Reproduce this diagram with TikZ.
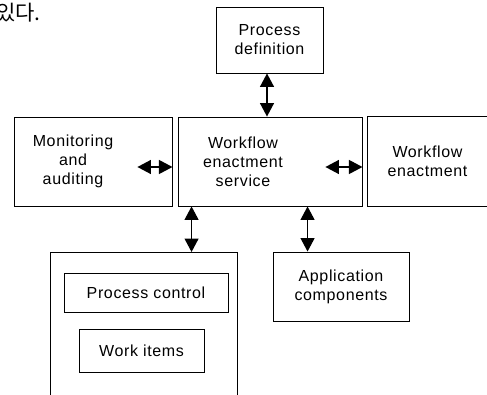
\documentclass[tikz,border=0pt]{standalone}
\usepackage{fontspec}
\setmainfont{Liberation Sans}[LetterSpace=4]
\newfontfamily\krfont{Noto Sans CJK KR}
\usetikzlibrary{arrows.meta}

\begin{document}
\begin{tikzpicture}[x=1pt, y=1pt,
  every node/.style={inner sep=0pt, align=center, font=\fontsize{16}{19}\selectfont},
  boxline/.style={line width=0.9pt},
  box/.style={draw, boxline},
  link/.style={{Triangle[length=13.5pt,width=14pt]}-{Triangle[length=13.5pt,width=14pt]}, line width=1.3pt}]
\useasboundingbox (0,0) rectangle (487,394);

% cut-off text above the figure
\node[font=\krfont\fontsize{21}{22}\selectfont, anchor=east] (note) at (41,381.5) {있다.};

% Row 1
\node[box, minimum width=107, minimum height=66] (pdef) at (269.5,354) {Process\\definition};

% Row 2
\node[box, minimum width=158, minimum height=89] (monitor) at (93,232.5) {};
\node (monitortxt) at ([xshift=-20pt]monitor.center) {Monitoring\\and\\auditing};
\node[box, minimum width=184, minimum height=89] (wes) at (270,232.5) {};
\node (westxt) at ([xshift=-27pt]wes.center) {Workflow\\enactment\\service};
\node[minimum width=119, minimum height=89] (enact) at (427.5,232.5) {Workflow\\enactment};
\draw[boxline] ([xshift=6pt]enact.north east) -- (enact.north west) -- (enact.south west) -- ([xshift=6pt]enact.south east);

% Row 3
\node[minimum width=186, minimum height=150, anchor=north] (runtime) at (144,142) {};
\draw[boxline] ([yshift=-6pt]runtime.south west) -- (runtime.north west) -- (runtime.north east) -- ([yshift=-6pt]runtime.south east);
\node[box, minimum width=164, minimum height=39] (pctrl) at (146,101.5) {Process control};
\node[box, minimum width=125, minimum height=43] (witems) at (141.5,43.5) {Work items};
\node[box, minimum width=136, minimum height=69] (appc) at (341,107.5) {Application\\components};

% connectors
\draw[link] ([xshift=-2.5pt]pdef.south) -- ([xshift=-3pt]wes.north);
\draw[link] ([xshift=-35pt,yshift=-5.5pt]monitor.east) -- ([yshift=-5.5pt]monitor.east);
\draw[link] ([xshift=-37pt,yshift=-5.5pt]wes.east) -- ([yshift=-5.5pt]wes.east);
\draw[link] ([xshift=14pt]wes.south west) -- ([xshift=14pt]wes.south west |- runtime.north);
\draw[link] ([xshift=130pt]wes.south west) -- ([xshift=130pt]wes.south west |- appc.north);
\end{tikzpicture}
\end{document}
